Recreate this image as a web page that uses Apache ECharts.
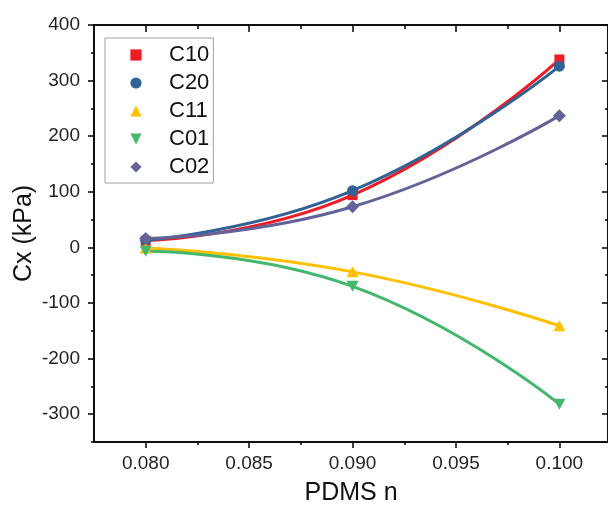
<!DOCTYPE html>
<html>
<head>
<meta charset="utf-8">
<script src="https://cdn.jsdelivr.net/npm/echarts@6/dist/echarts.min.js"></script>
<style>
  html, body { margin: 0; padding: 0; background: #fff; }
  #chart { width: 608px; height: 511px; }
</style>
</head>
<body>
<div id="chart"></div>
<script>
// PDMS n values on the x axis
const pdmsN = [0.080, 0.090, 0.100];

// Fitted material constants (kPa)
const c10 = [12, 94, 338];
const c20 = [13, 102, 326];
const c11 = [-1, -44, -141];
const c01 = [-7, -70, -282];
const c02 = [16, 73, 237];

const seriesNames = ['C10', 'C20', 'C11', 'C01', 'C02'];
const seriesValues = [c10, c20, c11, c01, c02];
const seriesColors = ['#ee1c25', '#2f6296', '#ffc000', '#43b86c', '#626399'];

// Tick positions
const xMajorTicks = [0.080, 0.085, 0.090, 0.095, 0.100];
const xMinorTicks = [0.0825, 0.0875, 0.0925, 0.0975];
const yMajorTicks = [-300, -200, -100, 0, 100, 200, 300, 400];
const yMinorTicks = [-350, -250, -150, -50, 50, 150, 250, 350];

const FONT = 'Liberation Sans, Arial, Helvetica, sans-serif';
const X_MIN = 0.0775, X_MAX = 0.10235;
const Y_MIN = -350, Y_MAX = 400;

const invTriangle = 'path://M0,0L10,0L5,9Z';
const symbols = ['rect', 'circle', 'triangle', invTriangle, 'diamond'];
const symbolSizes = [10, 11, [12, 11], [12, 11], 13];

function xAxisDef(position, ticks, len, inside, withLabels) {
  return {
    type: 'value', position, min: X_MIN, max: X_MAX,
    axisLine: { show: true, onZero: false, lineStyle: { color: '#000', width: 1.5 } },
    axisTick: { show: true, customValues: ticks, length: len, inside, lineStyle: { color: '#000', width: 1.5 } },
    axisLabel: withLabels ? {
      show: true, customValues: xMajorTicks, margin: 12,
      formatter: v => v.toFixed(3), color: '#222', fontSize: 19, fontFamily: FONT
    } : { show: false },
    splitLine: { show: false },
    name: withLabels ? 'PDMS n' : '',
    nameLocation: 'middle', nameGap: 39, nameMoveOverlap: false,
    nameTextStyle: { color: '#111', fontSize: 25, fontFamily: FONT }
  };
}

function yAxisDef(position, ticks, len, inside, withLabels) {
  return {
    type: 'value', position, min: Y_MIN, max: Y_MAX,
    axisLine: { show: true, onZero: false, lineStyle: { color: '#000', width: 1.5 } },
    axisTick: { show: true, customValues: ticks, length: len, inside, lineStyle: { color: '#000', width: 1.5 } },
    axisLabel: withLabels ? {
      show: true, customValues: yMajorTicks, margin: 14,
      color: '#222', fontSize: 19, fontFamily: FONT
    } : { show: false },
    splitLine: { show: false },
    name: withLabels ? 'Cx (kPa)' : '',
    nameLocation: 'middle', nameGap: 57, nameRotate: 90, nameMoveOverlap: false,
    nameTextStyle: { color: '#111', fontSize: 25, fontFamily: FONT }
  };
}

const chart = echarts.init(document.getElementById('chart'), null, { renderer: 'canvas' });

chart.setOption({
  animation: false,
  backgroundColor: '#fff',
  grid: { left: 94, top: 25, width: 516, height: 419, containLabel: false },
  xAxis: [
    xAxisDef('bottom', xMajorTicks, 6, false, true),
    xAxisDef('bottom', xMinorTicks, 3, false, false),
    xAxisDef('top', xMajorTicks, 7, true, false),
    xAxisDef('top', xMinorTicks, 4, true, false)
  ],
  yAxis: [
    yAxisDef('left', yMajorTicks, 6, false, true),
    yAxisDef('left', yMinorTicks, 3, false, false),
    yAxisDef('right', yMajorTicks, 6, true, false),
    yAxisDef('right', yMinorTicks, 3, true, false)
  ],
  legend: {
    left: 105, top: 38, orient: 'vertical',
    padding: [6, 4, 5, 2],
    itemWidth: 56, itemHeight: 14, itemGap: 6,
    borderColor: '#a0a0a0', borderWidth: 1,
    lineStyle: { opacity: 0 },
    textStyle: { color: '#111', fontSize: 22, fontFamily: FONT },
    data: seriesNames
  },
  series: seriesNames.map((name, i) => ({
    name,
    type: 'line',
    xAxisIndex: 0, yAxisIndex: 0,
    data: pdmsN.map((x, j) => [x, seriesValues[i][j]]),
    smooth: 0.5,
    symbol: symbols[i],
    symbolSize: symbolSizes[i],
    showSymbol: true,
    lineStyle: { color: seriesColors[i], width: 3 },
    itemStyle: { color: seriesColors[i] },
    emphasis: { disabled: true }
  }))
});
</script>
</body>
</html>
